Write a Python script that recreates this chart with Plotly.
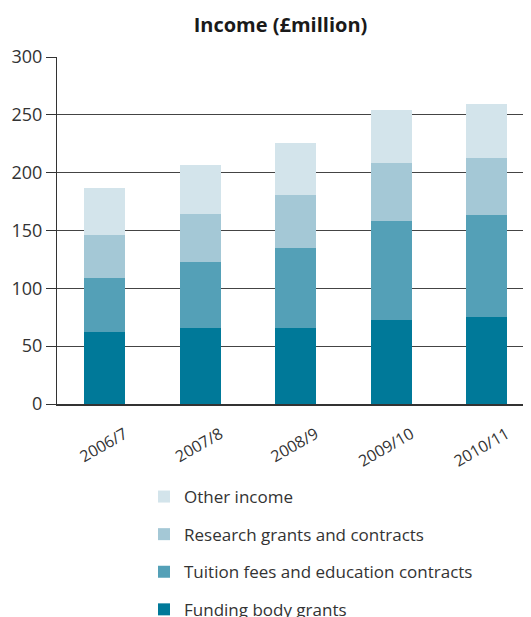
import plotly.graph_objects as go

years = ["2006/7", "2007/8", "2008/9", "2009/10", "2010/11"]
funding = [62, 66, 66, 73, 75.5]
tuition = [47, 57, 69, 85, 88]
research = [37, 41.5, 46, 50, 49.5]
other = [41, 42.5, 45, 46.5, 46.5]

series = [
    ("Funding body grants", funding, "#007999", 4),
    ("Tuition fees and education contracts", tuition, "#54A0B7", 3),
    ("Research grants and contracts", research, "#A4C8D6", 2),
    ("Other income", other, "#D3E4EB", 1),
]

FONT = "Open Sans, Noto Sans, sans-serif"
W, H = 523, 609  # page has an 8px body margin

fig = go.Figure()
for i, (name, vals, col, rank) in enumerate(series):
    fig.add_trace(go.Bar(
        x=years, y=vals, name=name, marker=dict(color=col, line=dict(width=0)),
        width=0.43, legendgroup=f"g{i}", legendrank=rank,
    ))

fig.update_layout(
    barmode="stack",
    width=W, height=H,
    margin=dict(l=49, r=0, t=49, b=213, autoexpand=False),
    paper_bgcolor="white", plot_bgcolor="white",
    font=dict(family=FONT, color="#333333", size=16),
    title=dict(text="<b>Income (£million)</b>", x=272.5 / W, xanchor="center",
               xref="container", y=1 - 17 / H, yanchor="middle", yref="container",
               font=dict(size=20, color="#1a1a1a")),
    xaxis=dict(
        range=[-0.5, 4.463], showgrid=False, showline=True, linecolor="#333333",
        linewidth=1.5, ticks="", tickangle=-30, tickfont=dict(size=16, color="#333333"),
        ticklabelshift=20, ticklabelstandoff=13, automargin=False,
    ),
    yaxis=dict(
        range=[0, 300], tickvals=[0, 50, 100, 150, 200, 250, 300],
        showgrid=True, gridcolor="#444444", gridwidth=1.2,
        showline=True, linecolor="#333333", linewidth=1.2,
        ticks="outside", ticklen=10, tickcolor="#333333", tickwidth=1.2,
        tickfont=dict(size=18, color="#333333"), zeroline=False, automargin=False,
    ),
    legend=dict(
        x=136 / W, y=1 - 471 / H, xanchor="left", yanchor="top",
        xref="container", yref="container",
        traceorder="grouped", tracegroupgap=12.5,
        font=dict(size=17, color="#333333"), bgcolor="rgba(0,0,0,0)",
    ),
)

fig.write_html("out.html")
